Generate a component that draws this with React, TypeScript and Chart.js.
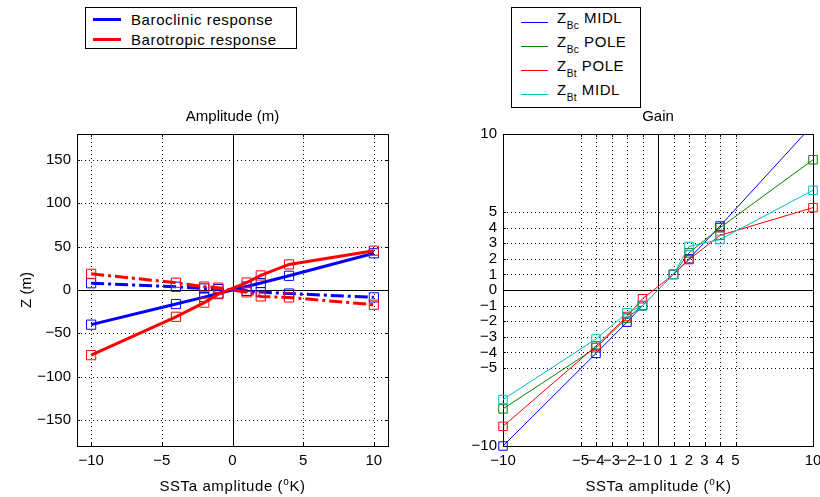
import React, { useEffect, useRef } from 'react';
import { Chart, registerables } from 'chart.js';

Chart.register(...registerables);

// ---- data ----
const sstaAmplitudes = [-10, -4, -2, -1, 1, 2, 4, 10];

// Amplitude (m)
const baroclinicSolid = [-40, -16.2, -8.2, -4, 4, 8, 16.4, 42.4];
const barotropicSolid = [-75.2, -30.9, -14.6, -4.8, 8.6, 16.8, 29.5, 45.4];
const baroclinicDashDot = [7.8, 3.8, 1.8, 1, -1, -2.4, -4.1, -8.5];
const barotropicDashDot = [18.7, 8.4, 3.9, 2.7, -2.7, -7.4, -8.6, -17];

// Gain
const gainBcMidl = [-10, -4.06, -2.06, -1, 1, 2, 4.1, 10.6];
const gainBcPole = [-7.62, -3.7, -1.8, -1, 1, 2.38, 3.99, 8.35];
const gainBtPole = [-8.74, -3.59, -1.7, -0.56, 1, 1.95, 3.5, 5.28];
const gainBtMidl = [-7.02, -3.14, -1.46, -1, 1, 2.79, 3.24, 6.39];

// ticks
const amplitudeXTicks = [-10, -5, 0, 5, 10];
const amplitudeYTicks = [-150, -100, -50, 0, 50, 100, 150];
const gainTicks = [-10, -5, -4, -3, -2, -1, 0, 1, 2, 3, 4, 5, 10];

const FONT = "'Liberation Sans', Arial, Helvetica, sans-serif";
const BLUE = '#0000ff';
const RED = '#ff0000';
const GREEN = '#008000';
const CYAN = '#00bfbf';

const fmt = (v: number) => (v < 0 ? '\u2212' + Math.abs(v) : String(v));
const pts = (ys: number[]) => sstaAmplitudes.map((x, i) => ({ x, y: ys[i] }));

const matlabAxesPlugin = {
  id: 'matlabAxes',
  beforeDatasetsDraw(chart: any) {
    const { ctx, chartArea: a } = chart;
    const xs = chart.scales.x;
    const ys = chart.scales.y;
    const px = (v: number) => Math.round(xs.getPixelForValue(v)) + 0.5;
    const py = (v: number) => Math.round(ys.getPixelForValue(v)) + 0.5;
    ctx.save();
    ctx.strokeStyle = '#000';
    ctx.lineWidth = 1;
    // dotted grid
    ctx.setLineDash([1, 3]);
    ctx.beginPath();
    xs.ticks.forEach((t: any) => {
      if (t.value === 0) return;
      const p = px(t.value);
      ctx.moveTo(p, a.top);
      ctx.lineTo(p, a.bottom);
    });
    ys.ticks.forEach((t: any) => {
      if (t.value === 0) return;
      const p = py(t.value);
      ctx.moveTo(a.left, p);
      ctx.lineTo(a.right, p);
    });
    ctx.stroke();
    ctx.setLineDash([]);
    // zero lines
    ctx.beginPath();
    const x0 = px(0);
    const y0 = py(0);
    ctx.moveTo(x0, a.top);
    ctx.lineTo(x0, a.bottom);
    ctx.moveTo(a.left, y0);
    ctx.lineTo(a.right, y0);
    // inward tick marks
    const L = 3;
    xs.ticks.forEach((t: any) => {
      const p = px(t.value);
      ctx.moveTo(p, a.bottom);
      ctx.lineTo(p, a.bottom - L);
      ctx.moveTo(p, a.top);
      ctx.lineTo(p, a.top + L);
    });
    ys.ticks.forEach((t: any) => {
      const p = py(t.value);
      ctx.moveTo(a.left, p);
      ctx.lineTo(a.left + L, p);
      ctx.moveTo(a.right, p);
      ctx.lineTo(a.right - L, p);
    });
    ctx.stroke();
    // box
    ctx.strokeRect(
      Math.round(a.left) + 0.5,
      Math.round(a.top) + 0.5,
      Math.round(a.right - a.left),
      Math.round(a.bottom - a.top)
    );
    ctx.restore();
  },
};

function xAxis(ticks: number[], min: number, max: number) {
  return {
    type: 'linear' as const,
    min,
    max,
    afterBuildTicks: (s: any) => {
      s.ticks = ticks.map((v) => ({ value: v }));
    },
    afterFit: (s: any) => {
      s.height = 51;
      s.paddingLeft = 0;
      s.paddingRight = 0;
    },
    grid: { display: false, drawTicks: false },
    border: { display: false },
    ticks: {
      autoSkip: false,
      maxRotation: 0,
      minRotation: 0,
      padding: 6,
      color: '#000',
      font: { family: FONT, size: 15 },
      callback: (v: any) => fmt(Number(v)),
    },
  };
}

function yAxis(ticks: number[], min: number, max: number, width: number, title?: string) {
  return {
    type: 'linear' as const,
    min,
    max,
    afterBuildTicks: (s: any) => {
      s.ticks = ticks.map((v) => ({ value: v }));
    },
    afterFit: (s: any) => {
      s.width = width;
      s.paddingTop = 0;
      s.paddingBottom = 0;
    },
    grid: { display: false, drawTicks: false },
    border: { display: false },
    title: title
      ? {
          display: true,
          text: title,
          color: '#000',
          font: { family: FONT, size: 15 },
          padding: { top: 18, bottom: 0 },
        }
      : { display: false },
    ticks: {
      autoSkip: false,
      padding: 6,
      color: '#000',
      font: { family: FONT, size: 15 },
      callback: (v: any) => fmt(Number(v)),
    },
  };
}

function titleOpts(text: string) {
  return {
    display: true,
    text,
    fullSize: false,
    color: '#000',
    font: { family: FONT, size: 15, weight: 'normal' as const },
    padding: { top: 8, bottom: 8 },
  };
}

function ampSet(label: string, data: number[], color: string, dash: number[]) {
  return {
    label,
    data: pts(data),
    borderColor: color,
    backgroundColor: color,
    borderWidth: 3,
    borderDash: dash,
    pointStyle: 'rect' as const,
    pointRadius: 6.5,
    pointHoverRadius: 6.5,
    pointBorderWidth: 1,
    pointBorderColor: color,
    pointBackgroundColor: 'rgba(0,0,0,0)',
    tension: 0,
    fill: false,
  };
}

function gainSet(label: string, data: number[], color: string) {
  return {
    label,
    data: pts(data),
    borderColor: color,
    backgroundColor: color,
    borderWidth: 1,
    pointStyle: 'rect' as const,
    pointRadius: 6,
    pointHoverRadius: 6,
    pointBorderWidth: 1,
    pointBorderColor: color,
    pointBackgroundColor: 'rgba(0,0,0,0)',
    tension: 0,
    fill: false,
    clip: { left: 12, right: 12, top: 0, bottom: 12 },
  };
}

const DASHDOT = [13, 4, 3, 4];

export default function App() {
  const leftRef = useRef<HTMLCanvasElement>(null);
  const rightRef = useRef<HTMLCanvasElement>(null);

  useEffect(() => {
    const left = new Chart(leftRef.current as HTMLCanvasElement, {
      type: 'line',
      data: {
        datasets: [
          ampSet('Barotropic response', barotropicSolid, RED, []),
          ampSet('Barotropic response (dash-dot)', barotropicDashDot, RED, DASHDOT),
          ampSet('Baroclinic response', baroclinicSolid, BLUE, []),
          ampSet('Baroclinic response (dash-dot)', baroclinicDashDot, BLUE, DASHDOT),
        ] as any,
      },
      options: {
        responsive: false,
        animation: false,
        events: [],
        layout: { padding: { left: 0, right: 42, top: 100, bottom: 0 } },
        scales: {
          x: xAxis(amplitudeXTicks, -11, 11),
          y: yAxis(amplitudeYTicks, -180, 180, 77, 'Z (m)'),
        } as any,
        plugins: {
          legend: { display: false },
          tooltip: { enabled: false },
          title: titleOpts('Amplitude (m)'),
        },
      },
      plugins: [matlabAxesPlugin],
    });

    const right = new Chart(rightRef.current as HTMLCanvasElement, {
      type: 'line',
      data: {
        datasets: [
          gainSet('Z_Bt MIDL', gainBtMidl, CYAN),
          gainSet('Z_Bt POLE', gainBtPole, RED),
          gainSet('Z_Bc POLE', gainBcPole, GREEN),
          gainSet('Z_Bc MIDL', gainBcMidl, BLUE),
        ] as any,
      },
      options: {
        responsive: false,
        animation: false,
        events: [],
        layout: { padding: { left: 0, right: 6, top: 100, bottom: 0 } },
        scales: {
          x: xAxis(gainTicks, -10, 10),
          y: yAxis(gainTicks, -10, 10, 73),
        } as any,
        plugins: {
          legend: { display: false },
          tooltip: { enabled: false },
          title: titleOpts('Gain'),
        },
      },
      plugins: [matlabAxesPlugin],
    });

    return () => {
      left.destroy();
      right.destroy();
    };
  }, []);

  const textStyle: React.CSSProperties = {
    position: 'absolute',
    fontFamily: FONT,
    fontSize: 15,
    lineHeight: '18px',
    color: '#000',
    whiteSpace: 'nowrap',
    letterSpacing: '0.6px',
  };

  const sub: React.CSSProperties = { fontSize: 10, position: 'relative', top: 6, letterSpacing: '0.4px' };
  const sup: React.CSSProperties = { fontSize: 10, position: 'relative', top: -6 };

  const gainLegend = [
    { sub: 'Bc', name: 'MIDL', color: BLUE },
    { sub: 'Bc', name: 'POLE', color: GREEN },
    { sub: 'Bt', name: 'POLE', color: RED },
    { sub: 'Bt', name: 'MIDL', color: CYAN },
  ];

  return (
    <div
      style={{
        position: 'fixed',
        left: 0,
        top: 0,
        width: 820,
        height: 497,
        background: '#fff',
        overflow: 'hidden',
      }}
    >
      <canvas ref={leftRef} width={430} height={497} style={{ position: 'absolute', left: 0, top: 0, width: 430, height: 497 }} />
      <canvas ref={rightRef} width={390} height={497} style={{ position: 'absolute', left: 430, top: 0, width: 390, height: 497 }} />

      {/* left legend */}
      <div
        style={{
          position: 'absolute',
          left: 85,
          top: 7,
          width: 212,
          height: 42,
          boxSizing: 'border-box',
          border: '1px solid #000',
          background: '#fff',
        }}
      >
        <div style={{ position: 'absolute', left: 7, top: 10, width: 28, height: 3, background: BLUE }} />
        <div style={{ ...textStyle, left: 45, top: 2.5 }}>Baroclinic response</div>
        <div style={{ position: 'absolute', left: 7, top: 30, width: 28, height: 3, background: RED }} />
        <div style={{ ...textStyle, left: 45, top: 23 }}>Barotropic response</div>
      </div>

      {/* right legend */}
      <div
        style={{
          position: 'absolute',
          left: 511,
          top: 7,
          width: 130,
          height: 101,
          boxSizing: 'border-box',
          border: '1px solid #000',
          background: '#fff',
        }}
      >
        {gainLegend.map((g, i) => (
          <React.Fragment key={i}>
            <div style={{ position: 'absolute', left: 9, top: 14 + i * 24, width: 27, height: 1, background: g.color }} />
            <div style={{ ...textStyle, left: 45, top: 1 + i * 24 }}>
              Z<span style={sub}>{g.sub}</span> {g.name}
            </div>
          </React.Fragment>
        ))}
      </div>

      {/* x axis titles */}
      <div style={{ ...textStyle, left: 77, width: 311, top: 477, textAlign: 'center' }}>
        SSTa amplitude (<span style={sup}>o</span>K)
      </div>
      <div style={{ ...textStyle, left: 503, width: 311, top: 477, textAlign: 'center' }}>
        SSTa amplitude (<span style={sup}>o</span>K)
      </div>
    </div>
  );
}
